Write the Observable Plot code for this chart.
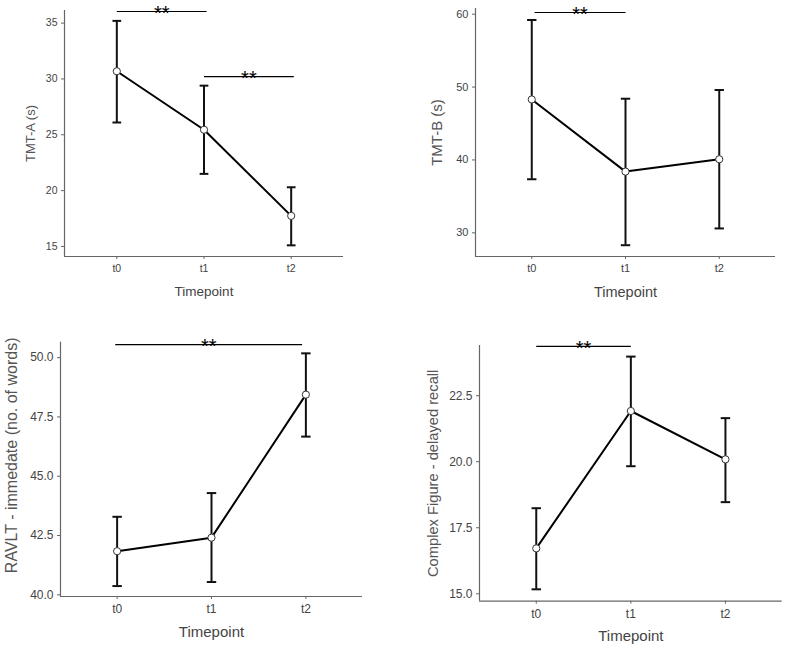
<!DOCTYPE html>
<html>
<head>
<meta charset="utf-8">
<script src="https://cdn.jsdelivr.net/npm/d3@7"></script>
<script src="https://cdn.jsdelivr.net/npm/@observablehq/plot@0.6"></script>
<style>
  html, body { margin: 0; padding: 0; background: #fff; }
  #wrap { position: relative; width: 787px; height: 649px; font-family: "Liberation Sans", Arial, sans-serif; }
  #wrap > div { position: absolute; }
  svg { overflow: visible; }
</style>
</head>
<body>
<div id="wrap">
  <div id="p1"></div><div id="p2"></div><div id="p3"></div><div id="p4"></div>
</div>
<script>
// ---- data ----
const timepoints = ["t0", "t1", "t2"];

const tmtA_mean  = [30.69, 25.45, 17.74];
const tmtA_lower = [26.1, 21.5, 15.1];
const tmtA_upper = [35.2, 29.4, 20.3];
const tmtA_ticks = [15, 20, 25, 30, 35];
const tmtA_sig   = [{from: 0, to: 1.03, at: 36.04, label: "**"}, {from: 1, to: 2.03, at: 30.21, label: "**"}];

const tmtB_mean  = [48.3, 38.4, 40.1];
const tmtB_lower = [37.35, 28.3, 30.6];
const tmtB_upper = [59.2, 48.4, 49.6];
const tmtB_ticks = [30, 40, 50, 60];
const tmtB_sig   = [{from: 0.03, to: 1.0, at: 60.23, label: "**"}];

const ravlt_mean  = [41.84, 42.41, 48.44];
const ravlt_lower = [40.37, 40.54, 46.67];
const ravlt_upper = [43.29, 44.29, 50.18];
const ravlt_ticks = [40.0, 42.5, 45.0, 47.5, 50.0];
const ravlt_sig   = [{from: -0.02, to: 1.96, at: 50.55, label: "**"}];

const cf_mean  = [16.72, 21.92, 20.09];
const cf_lower = [15.17, 19.83, 18.47];
const cf_upper = [18.24, 23.98, 21.65];
const cf_ticks = [15.0, 17.5, 20.0, 22.5];
const cf_sig   = [{from: 0.0, to: 1.0, at: 24.37, label: "**"}];

// ---- drawing ----
function panel(cfg) {
  const data = timepoints.map((t, i) => ({x: i, t, mean: cfg.mean[i], lo: cfg.lower[i], hi: cfg.upper[i]}));
  const xDomain = [-0.6, timepoints.length - 1 + 0.6];
  const cap = 0.05;
  const axisColor = "#666";
  const textColor = "#444";
  const chart = Plot.plot({
    width: cfg.width, height: cfg.height,
    marginLeft: cfg.ml, marginRight: cfg.mr, marginTop: cfg.mt, marginBottom: cfg.mb,
    style: {fontFamily: "Liberation Sans, Arial, sans-serif", background: "white", overflow: "visible"},
    x: {domain: xDomain, axis: null},
    y: {domain: cfg.yDomain, axis: null},
    marks: [
      Plot.ruleX([xDomain[0]], {stroke: axisColor, strokeWidth: 1.2}),
      Plot.ruleY([cfg.yDomain[0]], {stroke: axisColor, strokeWidth: 1.2}),
      Plot.axisY({ticks: cfg.ticks, tickSize: 3, tickPadding: 4, stroke: axisColor, color: textColor,
        fontSize: cfg.tickFont, label: null, tickFormat: cfg.tickFmt}),
      Plot.axisX({ticks: timepoints.map((t, i) => i), tickSize: 3, tickPadding: 5, stroke: axisColor, color: textColor,
        fontSize: cfg.tickFont, label: null, tickFormat: i => timepoints[i]}),
      Plot.text(["Timepoint"], {frameAnchor: "bottom", text: d => d, dy: cfg.xLabDy, lineAnchor: "middle",
        fill: textColor, fontSize: cfg.labFont}),
      Plot.text([cfg.yLabel], {frameAnchor: "left", text: d => d, dx: cfg.yLabDx, dy: cfg.yLabDy || 0, rotate: -90,
        lineAnchor: "middle", textAnchor: "middle", fill: "#555", fontSize: cfg.yLabFont}),
      Plot.ruleX(data, {x: "x", y1: "lo", y2: "hi", stroke: "#111", strokeWidth: 2}),
      Plot.link(data, {x1: d => d.x - cap, x2: d => d.x + cap, y1: "hi", y2: "hi", stroke: "#111", strokeWidth: 2}),
      Plot.link(data, {x1: d => d.x - cap, x2: d => d.x + cap, y1: "lo", y2: "lo", stroke: "#111", strokeWidth: 2}),
      Plot.line(data, {x: "x", y: "mean", stroke: "#000", strokeWidth: 2}),
      Plot.dot(data, {x: "x", y: "mean", r: 3.6, fill: "white", stroke: "#333", strokeWidth: 1}),
      Plot.link(cfg.sig, {x1: "from", x2: "to", y1: "at", y2: "at", stroke: "#000", strokeWidth: 1.2}),
      Plot.text(cfg.sig, {x: d => (d.from + d.to) / 2, y: "at", text: "label", fill: "#000", fontSize: 20,
        lineAnchor: "middle", dy: 2})
    ]
  });
  const host = document.getElementById(cfg.id);
  host.style.left = cfg.left + "px";
  host.style.top = cfg.top + "px";
  host.appendChild(chart);
}

panel({id: "p1", left: 0, top: 0, width: 360, height: 305, ml: 64, mr: 17, mt: 10, mb: 49,
  mean: tmtA_mean, lower: tmtA_lower, upper: tmtA_upper, ticks: tmtA_ticks, sig: tmtA_sig,
  yDomain: [14.1, 36.13], tickFont: 10.5, labFont: 13.5, yLabFont: 13, xLabDy: 35, yLabDx: -34,
  yLabel: "TMT-A (s)", tickFmt: d3.format("d")});

panel({id: "p2", left: 400, top: 0, width: 387, height: 305, ml: 75, mr: 12, mt: 8, mb: 49,
  mean: tmtB_mean, lower: tmtB_lower, upper: tmtB_upper, ticks: tmtB_ticks, sig: tmtB_sig,
  yDomain: [26.75, 60.78], tickFont: 11, labFont: 14.5, yLabFont: 15, xLabDy: 36, yLabDx: -38,
  yLabel: "TMT-B (s)", tickFmt: d3.format("d")});

panel({id: "p3", left: 0, top: 320, width: 380, height: 329, ml: 60, mr: 18, mt: 21.7, mb: 53,
  mean: ravlt_mean, lower: ravlt_lower, upper: ravlt_upper, ticks: ravlt_ticks, sig: ravlt_sig,
  yDomain: [39.93, 50.65], tickFont: 12, labFont: 15, yLabFont: 16, xLabDy: 36, yLabDx: -49, yLabDy: -14,
  yLabel: "RAVLT - immedate (no. of words)", tickFmt: d3.format(".1f")});

panel({id: "p4", left: 400, top: 320, width: 387, height: 329, ml: 79, mr: 5.3, mt: 25, mb: 48.3,
  mean: cf_mean, lower: cf_lower, upper: cf_upper, ticks: cf_ticks, sig: cf_sig,
  yDomain: [14.72, 24.4], tickFont: 12, labFont: 15, yLabFont: 14.7, xLabDy: 35, yLabDx: -46,
  yLabel: "Complex Figure - delayed recall", tickFmt: d3.format(".1f")});
</script>
</body>
</html>
